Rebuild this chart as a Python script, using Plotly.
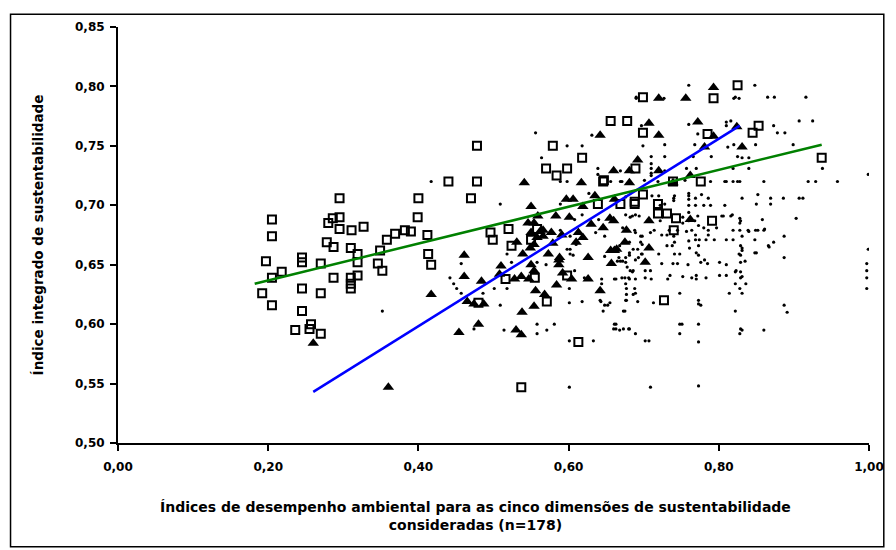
import plotly.graph_objects as go

# Open squares series (x = environmental index, y = integrated sustainability index)
squares = [
    (0.295,0.706),(0.205,0.688),(0.205,0.674),(0.280,0.685),(0.286,0.689),(0.295,0.690),(0.295,0.680),
    (0.311,0.679),(0.327,0.682),(0.400,0.706),(0.399,0.690),(0.412,0.675),(0.278,0.669),(0.287,0.665),
    (0.310,0.664),(0.319,0.659),(0.349,0.662),(0.358,0.671),(0.369,0.676),(0.382,0.679),(0.390,0.678),
    (0.413,0.659),(0.197,0.653),(0.245,0.656),(0.245,0.652),(0.270,0.651),(0.319,0.652),(0.346,0.651),
    (0.352,0.645),(0.218,0.644),(0.205,0.639),(0.287,0.639),(0.310,0.639),(0.319,0.641),(0.310,0.634),
    (0.310,0.630),(0.192,0.626),(0.245,0.630),(0.270,0.626),(0.205,0.616),(0.245,0.611),(0.257,0.600),
    (0.236,0.595),(0.255,0.596),(0.270,0.592),(0.417,0.650),
    (0.699,0.791),(0.656,0.771),(0.678,0.771),(0.699,0.761),(0.478,0.750),(0.579,0.750),(0.618,0.740),
    (0.570,0.731),(0.584,0.725),(0.598,0.731),(0.689,0.731),(0.646,0.720),(0.440,0.720),(0.478,0.720),
    (0.470,0.706),(0.699,0.709),(0.639,0.701),(0.669,0.701),(0.688,0.701),(0.496,0.677),(0.520,0.680),
    (0.499,0.671),(0.524,0.666),(0.558,0.680),(0.550,0.671),(0.516,0.638),(0.555,0.639),(0.598,0.641),
    (0.571,0.619),(0.480,0.618),(0.613,0.585),(0.537,0.547),
    (0.793,0.790),(0.825,0.801),(0.785,0.760),(0.845,0.761),(0.853,0.767),(0.937,0.740),(0.739,0.720),
    (0.776,0.720),(0.719,0.701),(0.719,0.693),(0.731,0.693),(0.743,0.689),(0.740,0.679),(0.791,0.687),
    (0.727,0.620),(0.647,0.721),(0.688,0.703),
]

# Filled triangles series
triangles = [
    (0.260,0.584),(0.360,0.547),(0.417,0.625),(0.642,0.759),(0.707,0.769),(0.692,0.738),(0.660,0.729),
    (0.681,0.729),(0.681,0.719),(0.617,0.719),(0.541,0.719),(0.597,0.705),(0.606,0.705),(0.635,0.708),
    (0.619,0.699),(0.661,0.705),(0.550,0.699),(0.559,0.691),(0.583,0.691),(0.601,0.690),(0.630,0.684),
    (0.646,0.681),(0.655,0.689),(0.660,0.687),(0.677,0.679),(0.707,0.687),(0.546,0.685),(0.554,0.685),
    (0.550,0.677),(0.566,0.679),(0.577,0.677),(0.566,0.674),(0.591,0.675),(0.613,0.677),(0.619,0.673),
    (0.610,0.669),(0.579,0.668),(0.554,0.667),(0.549,0.664),(0.531,0.669),(0.461,0.658),(0.539,0.659),
    (0.573,0.659),(0.588,0.656),(0.626,0.656),(0.656,0.662),(0.661,0.662),(0.675,0.669),(0.707,0.664),
    (0.461,0.640),(0.484,0.636),(0.510,0.649),(0.508,0.642),(0.528,0.638),(0.537,0.640),(0.547,0.638),
    (0.550,0.650),(0.587,0.654),(0.587,0.650),(0.592,0.643),(0.604,0.638),(0.626,0.638),(0.642,0.628),
    (0.584,0.633),(0.556,0.628),(0.568,0.625),(0.554,0.615),(0.538,0.610),(0.465,0.619),(0.474,0.617),
    (0.487,0.617),(0.480,0.600),(0.454,0.593),(0.530,0.595),(0.537,0.591),(0.657,0.651),(0.664,0.663),
    (0.702,0.652),(0.562,0.678),(0.558,0.673),(0.554,0.645),(0.793,0.799),(0.720,0.790),(0.756,0.790),
    (0.772,0.770),(0.720,0.759),(0.793,0.758),(0.824,0.766),(0.781,0.749),(0.720,0.729),(0.762,0.725),
    (0.831,0.749),(0.739,0.719),(0.762,0.688),
]

# Small dots series
dots = [
    (0.690,0.791),(0.556,0.761),(0.631,0.759),(0.598,0.750),(0.618,0.750),(0.699,0.750),(0.564,0.740),
    (0.639,0.731),(0.710,0.731),(0.710,0.735),(0.417,0.720),(0.589,0.720),(0.598,0.720),(0.639,0.726),
    (0.656,0.720),(0.671,0.720),(0.710,0.725),(0.509,0.701),(0.589,0.701),(0.618,0.692),(0.685,0.691),
    (0.694,0.691),(0.608,0.688),(0.640,0.688),(0.672,0.681),(0.689,0.677),(0.698,0.674),(0.648,0.674),
    (0.636,0.677),(0.589,0.679),(0.602,0.674),(0.610,0.667),(0.602,0.663),(0.602,0.659),(0.606,0.658),
    (0.648,0.657),(0.668,0.666),(0.681,0.658),(0.697,0.659),(0.709,0.677),(0.518,0.659),(0.696,0.669),
    (0.442,0.639),(0.447,0.634),(0.451,0.630),(0.457,0.626),(0.457,0.651),(0.509,0.616),(0.514,0.595),
    (0.474,0.596),(0.501,0.630),(0.518,0.630),(0.524,0.652),(0.558,0.652),(0.570,0.650),(0.601,0.630),
    (0.601,0.618),(0.598,0.663),(0.608,0.645),(0.621,0.639),(0.618,0.619),(0.644,0.638),(0.644,0.634),
    (0.643,0.619),(0.648,0.616),(0.655,0.618),(0.646,0.611),(0.673,0.611),(0.661,0.638),(0.671,0.639),
    (0.675,0.639),(0.680,0.639),(0.686,0.645),(0.682,0.645),(0.677,0.630),(0.677,0.625),(0.677,0.620),
    (0.688,0.630),(0.686,0.625),(0.692,0.619),(0.702,0.645),(0.702,0.639),(0.709,0.645),(0.686,0.663),
    (0.693,0.656),(0.669,0.653),(0.676,0.652),(0.558,0.600),(0.581,0.600),(0.558,0.592),(0.571,0.595),
    (0.601,0.586),(0.633,0.586),(0.661,0.600),(0.660,0.596),(0.668,0.595),(0.673,0.596),(0.681,0.596),
    (0.689,0.592),(0.702,0.586),(0.707,0.586),(0.601,0.547),(0.709,0.547),(0.486,0.626),(0.352,0.611),
    (0.720,0.708),(0.740,0.706),(0.760,0.708),(0.760,0.705),(0.769,0.706),(0.786,0.706),(0.831,0.706),
    (0.850,0.701),(0.722,0.700),(0.760,0.700),(0.769,0.700),(0.780,0.700),(0.789,0.700),(0.808,0.700),
    (0.689,0.692),(0.682,0.690),(0.676,0.692),(0.722,0.687),(0.752,0.690),(0.752,0.685),(0.760,0.694),
    (0.760,0.687),(0.768,0.687),(0.772,0.691),(0.773,0.683),(0.780,0.681),(0.764,0.679),(0.757,0.678),
    (0.769,0.675),(0.786,0.679),(0.786,0.675),(0.797,0.681),(0.806,0.691),(0.816,0.691),(0.828,0.689),
    (0.828,0.685),(0.819,0.679),(0.828,0.679),(0.839,0.679),(0.849,0.679),(0.688,0.679),(0.696,0.674),
    (0.714,0.679),(0.724,0.675),(0.731,0.675),(0.734,0.679),(0.740,0.674),(0.745,0.679),(0.760,0.670),
    (0.769,0.671),(0.774,0.671),(0.783,0.671),(0.794,0.671),(0.810,0.671),(0.819,0.671),(0.741,0.669),
    (0.848,0.671),(0.681,0.669),(0.698,0.667),(0.692,0.663),(0.681,0.660),(0.676,0.656),(0.667,0.656),
    (0.665,0.653),(0.672,0.653),(0.678,0.648),(0.689,0.654),(0.698,0.659),(0.720,0.659),(0.731,0.666),
    (0.738,0.666),(0.741,0.659),(0.748,0.659),(0.761,0.664),(0.770,0.660),(0.773,0.658),(0.781,0.654),
    (0.776,0.652),(0.785,0.651),(0.801,0.652),(0.810,0.650),(0.827,0.659),(0.829,0.652),(0.835,0.653),
    (0.850,0.660),(0.724,0.651),(0.739,0.651),(0.745,0.651),(0.759,0.650),(0.685,0.644),(0.681,0.638),
    (0.663,0.638),(0.689,0.638),(0.710,0.638),(0.735,0.641),(0.732,0.638),(0.752,0.640),(0.764,0.639),
    (0.770,0.641),(0.770,0.638),(0.783,0.639),(0.801,0.641),(0.810,0.641),(0.822,0.644),(0.829,0.644),
    (0.831,0.640),(0.822,0.634),(0.836,0.634),(0.676,0.634),(0.689,0.626),(0.748,0.626),(0.814,0.626),
    (0.828,0.630),(0.831,0.626),(0.676,0.620),(0.713,0.618),(0.773,0.620),(0.773,0.617),(0.776,0.616),
    (0.642,0.620),(0.652,0.616),(0.675,0.611),(0.822,0.611),(0.663,0.600),(0.663,0.596),(0.680,0.596),
    (0.748,0.600),(0.773,0.600),(0.748,0.592),(0.829,0.596),(0.828,0.592),
    (0.760,0.801),(0.690,0.790),(0.727,0.790),(0.820,0.790),(0.827,0.790),(0.810,0.770),(0.816,0.771),
    (0.810,0.767),(0.697,0.767),(0.760,0.768),(0.772,0.760),(0.728,0.751),(0.812,0.749),(0.820,0.751),
    (0.710,0.741),(0.728,0.741),(0.790,0.741),(0.766,0.741),(0.825,0.741),(0.669,0.729),(0.710,0.727),
    (0.728,0.729),(0.757,0.731),(0.770,0.731),(0.669,0.720),(0.701,0.721),(0.719,0.720),(0.755,0.721),
    (0.810,0.720),(0.819,0.720),(0.825,0.720),(0.627,0.710),(0.711,0.708),(0.760,0.710),(0.676,0.707),
    (0.741,0.708),(0.740,0.704),
    (0.848,0.801),(0.822,0.791),(0.865,0.791),(0.874,0.791),(0.916,0.791),(0.907,0.771),(0.925,0.771),
    (0.873,0.767),(0.878,0.761),(0.888,0.761),(0.768,0.751),(0.849,0.751),(0.899,0.751),(0.840,0.740),
    (0.938,0.731),(0.999,0.726),(0.819,0.731),(0.840,0.731),(0.789,0.720),(0.808,0.720),(0.828,0.720),
    (0.860,0.720),(0.919,0.720),(0.929,0.720),(0.958,0.720),(0.777,0.709),(0.852,0.709),(0.869,0.706),
    (0.886,0.706),(0.907,0.706),(0.912,0.706),(0.728,0.701),(0.869,0.701),(0.903,0.689),(0.858,0.688),
    (0.887,0.674),(0.804,0.691),(0.818,0.692),(0.829,0.687),(0.999,0.663),(0.873,0.669),(0.866,0.666),
    (0.887,0.656),(0.773,0.666),(0.829,0.666),(0.829,0.658),(0.848,0.660),(0.860,0.679),(0.852,0.679),
    (0.831,0.740),(0.840,0.678),(0.861,0.680),(0.831,0.674),(0.867,0.665),(0.831,0.664),(0.831,0.662),
    (0.997,0.651),(0.997,0.645),(0.997,0.639),(0.997,0.630),(0.823,0.645),(0.829,0.639),(0.887,0.616),
    (0.891,0.610),(0.831,0.595),(0.860,0.595),(0.751,0.600),(0.773,0.585),(0.773,0.548),
]

# Linear trend lines (start / end values)
trend_tri_x = [0.260, 0.828]
trend_tri_y = [0.543, 0.767]
trend_sq_x = [0.182, 0.937]
trend_sq_y = [0.634, 0.751]

x_ticks = [0.0, 0.2, 0.4, 0.6, 0.8, 1.0]
y_ticks = [0.50, 0.55, 0.60, 0.65, 0.70, 0.75, 0.80, 0.85]

x_title = "Índices de desempenho ambiental para as cinco dimensões de sustentabilidade<br>consideradas (n=178)"
y_title = "Índice integrado de sustentabilidade"

FONT = "DejaVu Sans, sans-serif"

dx, dy = zip(*dots)
tx, ty = zip(*triangles)
sx, sy = zip(*squares)

fig = go.Figure()
fig.add_trace(go.Scatter(x=dx, y=dy, mode="markers",
                         marker=dict(symbol="circle", size=3.2, color="black", line=dict(width=0)),
                         showlegend=False))
fig.add_trace(go.Scatter(x=tx, y=ty, mode="markers",
                         marker=dict(symbol="triangle-up", size=10, color="black", line=dict(width=0)),
                         showlegend=False))
fig.add_trace(go.Scatter(x=sx, y=sy, mode="markers",
                         marker=dict(symbol="square-open", size=8, color="black", line=dict(width=2)),
                         showlegend=False))
fig.add_trace(go.Scatter(x=trend_tri_x, y=trend_tri_y, mode="lines",
                         line=dict(color="#0000FF", width=2.5), showlegend=False))
fig.add_trace(go.Scatter(x=trend_sq_x, y=trend_sq_y, mode="lines",
                         line=dict(color="#008000", width=2.5), showlegend=False))

fig.update_layout(
    width=888, height=542,
    margin=dict(l=110, r=16, t=14, b=107),
    paper_bgcolor="white", plot_bgcolor="white",
    separators=",.",
    font=dict(family=FONT, color="black"),
    xaxis=dict(range=[0, 1.0], tickvals=x_ticks, tickformat=".2f",
               showline=True, linecolor="black", linewidth=2,
               ticks="outside", ticklen=6, tickwidth=2, tickcolor="black",
               ticklabelstandoff=6,
               showgrid=False, zeroline=False,
               tickfont=dict(family=FONT, size=12, weight="bold")),
    yaxis=dict(range=[0.5, 0.85], tickvals=y_ticks, tickformat=".2f",
               showline=True, linecolor="black", linewidth=2,
               ticks="outside", ticklen=6, tickwidth=2, tickcolor="black",
               ticklabelstandoff=3,
               showgrid=False, zeroline=False,
               tickfont=dict(family=FONT, size=12, weight="bold")),
    annotations=[
        dict(text=x_title, xref="paper", yref="paper", x=0.476, y=-0.175,
             xanchor="center", yanchor="middle", showarrow=False,
             font=dict(family=FONT, size=14, weight="bold")),
        dict(text=y_title, xref="paper", yref="paper", x=-0.106, y=0.5,
             xanchor="center", yanchor="middle", textangle=-90, showarrow=False,
             font=dict(family=FONT, size=13.5, weight="bold")),
    ],
    shapes=[
        dict(type="rect", xref="paper", yref="paper",
             x0=-0.1431, x1=1.0197, y0=-0.2494, y1=1.0309,
             line=dict(color="black", width=1.5), fillcolor="rgba(0,0,0,0)", layer="below"),
    ],
)

fig.write_html("out.html")
